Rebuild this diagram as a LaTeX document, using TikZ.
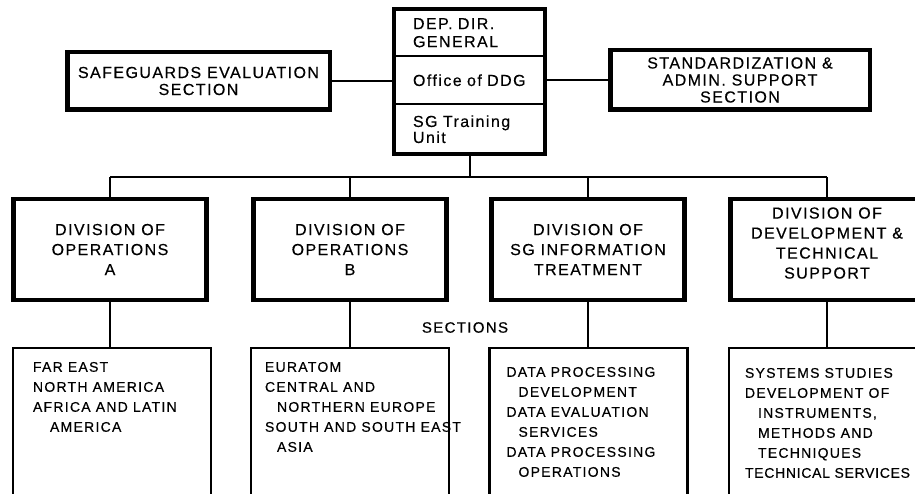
\documentclass[tikz,border=0pt]{standalone}
\usepackage{fontspec}
\setmainfont{Liberation Sans}[LetterSpace=9, FakeBold=0.4]
\usetikzlibrary{positioning, fit}

\begin{document}
\begin{tikzpicture}[x=1pt, y=-1pt,
  every node/.style={font=\fontsize{16}{18}\selectfont},
  sidebox/.style={draw, line width=4.5pt, inner sep=0pt, align=center,
                  font=\fontsize{16}{17}\selectfont},
  divbox/.style={draw, line width=4.5pt, minimum width=193pt, minimum height=100.5pt,
                 inner sep=0pt, align=center, font=\fontsize{16}{20}\selectfont},
  secbox/.style={draw, line width=2.4pt, minimum width=198pt, minimum height=170pt, inner sep=0pt},
  sectext/.style={font=\fontsize{14}{20}\selectfont, align=left, inner sep=0pt},
  ddgpart/.style={text width=113pt, inner xsep=19pt, inner ysep=0pt, outer sep=0pt, align=left},
  divider/.style={line width=2pt},
  link/.style={line width=2pt}
]
  \clip (0,0) rectangle (915,494);

  \node[ddgpart, minimum height=47pt, anchor=north] (dg) at (469.5,9.25) {DEP. DIR.\\GENERAL};
  \node[ddgpart, minimum height=48pt, below=0pt of dg] (off) {Office of DDG};
  \node[ddgpart, minimum height=50pt, below=0pt of off, font=\fontsize{16}{16}\selectfont] (tr) {SG Training\\Unit\\[10pt]};
  \draw[divider] (dg.south west) -- (dg.south east);
  \draw[divider] (off.south west) -- (off.south east);
  \node[draw, line width=4.5pt, inner sep=0pt, fit=(dg)(tr)] (ddg) {};

  \node[sidebox, minimum width=262.5pt, minimum height=57.5pt] (seval) at (198.5,81) {SAFEGUARDS EVALUATION\\SECTION};
  \node[sidebox, minimum width=259.5pt, minimum height=59.5pt] (stand) at (740,80) {STANDARDIZATION \&\\ADMIN. SUPPORT\\SECTION};
  \draw[link] (seval.east) -- (seval.east -| ddg.west);
  \draw[link] (ddg.east |- stand.west) -- (stand.west);

  \node[divbox] (divA) at (110,249.5) {DIVISION OF\\OPERATIONS\\A};
  \node[divbox] (divB) at (350,249.5) {DIVISION OF\\OPERATIONS\\B};
  \node[divbox] (divC) at (588,249.5) {DIVISION OF\\SG INFORMATION\\TREATMENT};
  \node[divbox] (divD) at (827,249.5) {DIVISION OF\\DEVELOPMENT \&\\TECHNICAL\\SUPPORT\\[-7pt]};

  \coordinate (bus) at (ddg.south |- 0,177);
  \draw[link] (ddg.south) -- (bus);
  \draw[link] (divA.north |- bus) -- (divD.north |- bus);
  \foreach \d in {divA,divB,divC,divD}{
    \draw[link] (\d.north) -- (\d.north |- bus);
  }

  \node[font=\fontsize{15}{18}\selectfont] (sections) at (465,327.5) {SECTIONS};

  \node[secbox] (secA) at (112,433) {};
  \node[secbox] (secB) at (350,433) {};
  \node[secbox] (secC) at (588.5,433) {};
  \node[secbox] (secD) at (828,433) {};
  \foreach \s/\d in {secA/divA,secB/divB,secC/divC,secD/divD}{
    \draw[link] (\d.south) -- (\d.south |- \s.north);
  }

  \node[sectext, below right=15pt and 21pt of secA.north west] (listA)
    {FAR EAST\\NORTH AMERICA\\AFRICA AND LATIN\\\hspace*{17pt}AMERICA};
  \node[sectext, below right=15pt and 15pt of secB.north west] (listB)
    {EURATOM\\CENTRAL AND\\\hspace*{12pt}NORTHERN EUROPE\\SOUTH AND SOUTH EAST\\\hspace*{12pt}ASIA};
  \node[sectext, below right=20pt and 18pt of secC.north west] (listC)
    {DATA PROCESSING\\\hspace*{12pt}DEVELOPMENT\\DATA EVALUATION\\\hspace*{12pt}SERVICES\\DATA PROCESSING\\\hspace*{12pt}OPERATIONS};
  \node[sectext, below right=21pt and 17pt of secD.north west] (listD)
    {SYSTEMS STUDIES\\DEVELOPMENT OF\\\hspace*{13pt}INSTRUMENTS,\\\hspace*{13pt}METHODS AND\\\hspace*{13pt}TECHNIQUES\\{\addfontfeatures{LetterSpace=5}TECHNICAL SERVICES}};
\end{tikzpicture}
\end{document}
